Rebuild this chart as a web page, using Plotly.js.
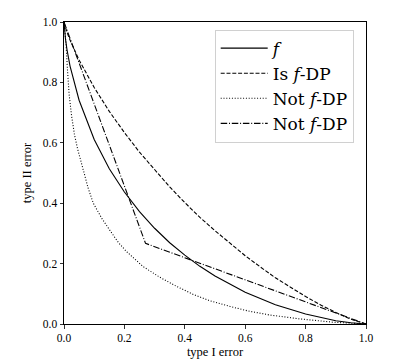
<!DOCTYPE html>
<html>
<head>
<meta charset="utf-8">
<script src="https://cdn.plot.ly/plotly-3.0.1.min.js"></script>
<style>html,body{margin:0;padding:0;background:#fff;}#chart{width:400px;height:361px;}</style>
</head>
<body>
<div id="chart"></div>
<script>
// f (solid)
const fX = [0, 0.001, 0.005, 0.01, 0.02, 0.05, 0.1, 0.15, 0.2, 0.25, 0.3, 0.35, 0.4, 0.45, 0.5, 0.6, 0.7, 0.8, 0.9, 0.95, 1.0];
const fY = [1.0, 0.982, 0.943, 0.908, 0.854, 0.741, 0.611, 0.514, 0.437, 0.372, 0.317, 0.269, 0.228, 0.191, 0.159, 0.105, 0.064, 0.033, 0.011, 0.004, 0.0];
// Is f-DP (dashed)
const isX = [0, 0.001, 0.01, 0.02, 0.05, 0.1, 0.15, 0.2, 0.25, 0.3, 0.35, 0.4, 0.45, 0.5, 0.55, 0.6, 0.65, 0.7, 0.75, 0.8, 0.85, 0.9, 0.95, 1.0];
const isY = [1.0, 0.995, 0.966, 0.940, 0.874, 0.783, 0.704, 0.634, 0.569, 0.510, 0.454, 0.402, 0.353, 0.309, 0.266, 0.226, 0.189, 0.153, 0.122, 0.091, 0.063, 0.038, 0.016, 0.0];
// Not f-DP (dotted)
const notAX = [0, 0.003, 0.007, 0.011, 0.017, 0.025, 0.035, 0.045, 0.064, 0.08, 0.097, 0.125, 0.152, 0.18, 0.207, 0.262, 0.317, 0.372, 0.428, 0.483, 0.55, 0.615, 0.68, 0.78, 0.89, 1.0];
const notAY = [1.0, 0.975, 0.925, 0.85, 0.76, 0.69, 0.625, 0.58, 0.51, 0.45, 0.40, 0.35, 0.31, 0.27, 0.24, 0.19, 0.155, 0.125, 0.098, 0.077, 0.058, 0.042, 0.030, 0.017, 0.006, 0.0];
// Not f-DP (dash-dot)
const notBX = [0, 0.27, 1.0];
const notBY = [1.0, 0.267, 0.0];

const FONT = 'Liberation Serif';
const LFONT = 'DejaVu Serif';
const lw = 1.1;
const traces = [
  {x: fX, y: fY, name: '<i>f</i>', mode: 'lines', line: {color: '#000', width: lw, dash: 'solid'}},
  {x: isX, y: isY, name: 'Is <i>f</i>-DP', mode: 'lines', line: {color: '#000', width: lw, dash: '4px,1.8px'}},
  {x: notAX, y: notAY, name: 'Not <i>f</i>-DP', mode: 'lines', line: {color: '#000', width: lw, dash: '1px,1.8px'}},
  {x: notBX, y: notBY, name: 'Not <i>f</i>-DP', mode: 'lines', line: {color: '#000', width: lw, dash: '6.5px,1.8px,1px,1.8px'}}
];
const axisCommon = {
  range: [0, 1], tickvals: [0, 0.2, 0.4, 0.6, 0.8, 1.0], ticktext: ['0.0','0.2','0.4','0.6','0.8','1.0'],
  showgrid: false, zeroline: false, showline: true, linecolor: '#000', linewidth: 1, mirror: true,
  ticks: 'outside', ticklen: 3.5, tickwidth: 0.8, tickcolor: '#000',
  tickfont: {family: FONT, size: 11.5, color: '#000'}
};
const layout = {
  width: 400, height: 361,
  margin: {l: 64, r: 33.5, t: 22, b: 36.5},
  paper_bgcolor: '#fff', plot_bgcolor: '#fff',
  font: {family: FONT, color: '#000'},
  xaxis: Object.assign({}, axisCommon, {title: {text: 'type I error', font: {family: FONT, size: 12.5, color: '#000'}, standoff: 3}}),
  yaxis: Object.assign({}, axisCommon, {title: {text: 'type II error', font: {family: FONT, size: 12.5, color: '#000'}, standoff: 8}}),
  showlegend: true,
  legend: {x: 0.499, y: 0.975, xanchor: 'left', yanchor: 'top', bgcolor: 'rgba(255,255,255,0.8)', bordercolor: '#d0d0d0', borderwidth: 1,
           font: {family: LFONT, size: 17, color: '#000'}, itemwidth: 47, tracegroupgap: 0}
};
Plotly.newPlot('chart', traces, layout, {displayModeBar: false, staticPlot: true});
</script>
</body>
</html>
